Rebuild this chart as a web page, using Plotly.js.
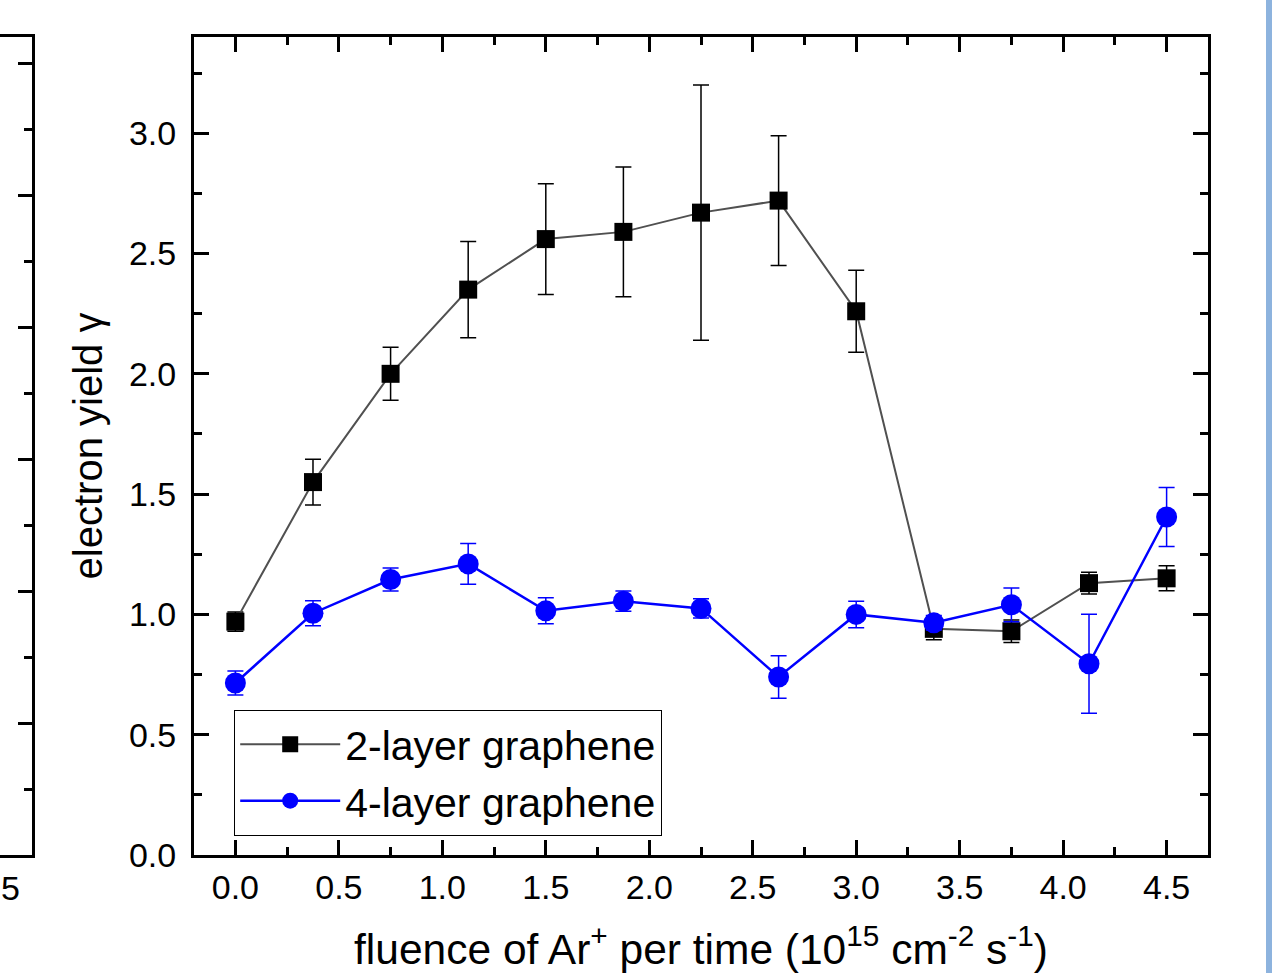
<!DOCTYPE html>
<html>
<head>
<meta charset="utf-8">
<script src="https://cdn.plot.ly/plotly-3.0.1.min.js"></script>
<style>
  html, body { margin: 0; padding: 0; background: #ffffff; }
  #chart { width: 1272px; height: 973px; }
</style>
</head>
<body>
<div id="chart"></div>
<script>
// fluence of Ar+ per time (10^15 cm^-2 s^-1)
const fluence = [0, 0.375, 0.75, 1.125, 1.5, 1.875, 2.25, 2.625, 3.0, 3.375, 3.75, 4.125, 4.5];
// 2-layer graphene electron yield and error
const yield2 = [0.97, 1.55, 2.00, 2.35, 2.56, 2.59, 2.67, 2.72, 2.26, 0.94, 0.93, 1.13, 1.15];
const err2   = [0.04, 0.095, 0.11, 0.20, 0.23, 0.27, 0.53, 0.27, 0.17, 0.045, 0.047, 0.045, 0.052];
// 4-layer graphene electron yield and error
const yield4 = [0.715, 1.005, 1.145, 1.21, 1.015, 1.055, 1.025, 0.74, 1.0, 0.965, 1.04, 0.795, 1.405];
const err4   = [0.05, 0.052, 0.048, 0.085, 0.054, 0.042, 0.04, 0.088, 0.055, 0.03, 0.07, 0.206, 0.123];

const xTicks = [0, 0.5, 1, 1.5, 2, 2.5, 3, 3.5, 4, 4.5];
const xTickText = ['0.0','0.5','1.0','1.5','2.0','2.5','3.0','3.5','4.0','4.5'];
const yTicks = [0, 0.5, 1, 1.5, 2, 2.5, 3];
const yTickText = ['0.0','0.5','1.0','1.5','2.0','2.5','3.0'];

const FONT = 'Arial, "Liberation Sans", sans-serif';
const W = 1272, H = 973;
const plotL = 194, plotR = 1208, plotT = 37, plotB = 855;
const plotH = plotB - plotT;

const traces = [
  {
    x: fluence, y: yield2, name: '2-layer graphene',
    type: 'scatter', mode: 'lines+markers',
    line: { color: '#505050', width: 2 },
    marker: { symbol: 'square', size: 18, color: '#000000' },
    error_y: { type: 'data', array: err2, visible: true, color: '#000000', thickness: 1.5, width: 8 },
    xaxis: 'x', yaxis: 'y'
  },
  {
    x: fluence, y: yield4, name: '4-layer graphene',
    type: 'scatter', mode: 'lines+markers',
    line: { color: '#0000ff', width: 2.5 },
    marker: { symbol: 'circle', size: 21, color: '#0000ff' },
    error_y: { type: 'data', array: err4, visible: true, color: '#0000ff', thickness: 1.5, width: 8 },
    xaxis: 'x', yaxis: 'y'
  },
  {
    x: [null], y: [null], type: 'scatter', mode: 'markers', showlegend: false,
    hoverinfo: 'skip', xaxis: 'x2', yaxis: 'y2'
  }
];

const layout = {
  width: W, height: H,
  margin: { l: 0, r: 0, t: plotT, b: H - plotB, pad: 0 },
  paper_bgcolor: '#ffffff', plot_bgcolor: '#ffffff',
  font: { family: FONT, color: '#000000', size: 34 },
  showlegend: true,
  legend: {
    x: 234 / W, y: (plotB - 710) / plotH, xanchor: 'left', yanchor: 'top',
    bgcolor: '#ffffff', bordercolor: '#000000', borderwidth: 1.2,
    font: { family: FONT, size: 41, color: '#000000' },
    itemwidth: 100, tracegroupgap: 0
  },
  xaxis: {
    domain: [plotL / W, plotR / W], anchor: 'y',
    range: [-0.2, 4.7],
    tickmode: 'array', tickvals: xTicks, ticktext: xTickText,
    ticks: 'inside', ticklen: 15, tickwidth: 3, tickcolor: '#000000',
    minor: { ticks: 'inside', ticklen: 8, tickwidth: 3, tickcolor: '#000000', dtick: 0.25, tick0: 0, showgrid: false },
    showline: true, linewidth: 3, linecolor: '#000000', mirror: 'allticks',
    showgrid: false, zeroline: false,
    tickfont: { family: FONT, size: 34, color: '#000000' },
    title: { text: 'fluence of Ar<sup>+</sup> per time (10<sup>15</sup> cm<sup>-2</sup> s<sup>-1</sup>)',
             font: { family: FONT, size: 42.5, color: '#000000' }, standoff: 30 }
  },
  yaxis: {
    domain: [0, 1], anchor: 'x',
    range: [0, 3.4],
    tickmode: 'array', tickvals: yTicks, ticktext: yTickText,
    ticks: 'inside', ticklen: 15, tickwidth: 3, tickcolor: '#000000',
    minor: { ticks: 'inside', ticklen: 8, tickwidth: 3, tickcolor: '#000000', dtick: 0.25, tick0: 0, showgrid: false },
    showline: true, linewidth: 3, linecolor: '#000000', mirror: 'allticks',
    showgrid: false, zeroline: false, ticklabelstandoff: 8,
    tickfont: { family: FONT, size: 34, color: '#000000' },
    title: { text: 'electron yield γ', font: { family: FONT, size: 40, color: '#000000' }, standoff: 14 }
  },
  // partial neighbouring chart on the left edge
  xaxis2: {
    domain: [0, 32 / W], anchor: 'y2', range: [0, 1],
    showline: true, linewidth: 3, linecolor: '#000000', mirror: true,
    ticks: '', showticklabels: false, showgrid: false, zeroline: false, fixedrange: true
  },
  yaxis2: {
    domain: [0, 1], anchor: 'x2', side: 'right', range: [0, 6.2],
    showline: true, linewidth: 3, linecolor: '#000000',
    tickmode: 'linear', tick0: 0, dtick: 1,
    ticks: 'inside', ticklen: 14, tickwidth: 3, tickcolor: '#000000',
    minor: { ticks: 'inside', ticklen: 8, tickwidth: 3, tickcolor: '#000000', dtick: 0.5, tick0: 0, showgrid: false },
    showticklabels: false, showgrid: false, zeroline: false, fixedrange: true
  },
  annotations: [
    { text: '5', xref: 'paper', yref: 'paper', x: 10 / W, y: (plotB - 888) / plotH,
      xanchor: 'center', yanchor: 'middle', showarrow: false,
      font: { family: FONT, size: 34, color: '#000000' } }
  ],
  shapes: [
    { type: 'rect', xref: 'paper', yref: 'paper', x0: 1266 / W, x1: 1, y0: (plotB - H) / plotH, y1: plotB / plotH,
      fillcolor: '#8db3de', line: { width: 0 }, layer: 'below' }
  ]
};

Plotly.newPlot('chart', traces, layout, { displayModeBar: false, staticPlot: true });
</script>
</body>
</html>
